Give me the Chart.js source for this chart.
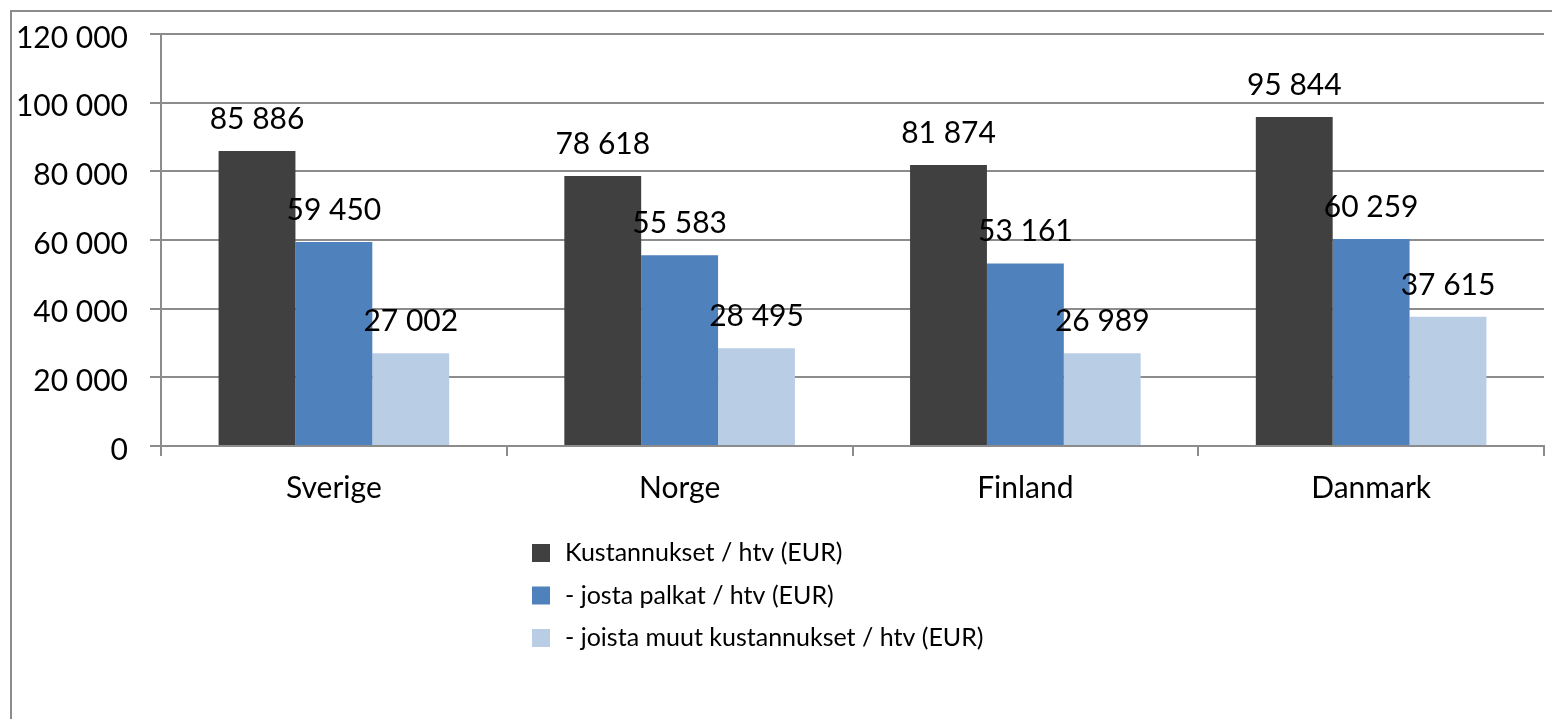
<!DOCTYPE html>
<html>
<head>
<meta charset="utf-8">
<script src="https://cdn.jsdelivr.net/npm/chart.js@4/dist/chart.umd.min.js"></script>
<style>
  html, body { margin: 0; padding: 0; background: #fff; }
  #wrap { position: absolute; left: 0; top: 0; width: 1552px; height: 719px; }
</style>
</head>
<body>
<div id="wrap"><canvas id="chart" width="1552" height="719"></canvas></div>
<script>
// categories and series
var countries = ['Sverige', 'Norge', 'Finland', 'Danmark'];
var kustannukset = [85886, 78618, 81874, 95844];
var palkat = [59450, 55583, 53161, 60259];
var muut = [27002, 28495, 26989, 37615];
var yTicks = [0, 20000, 40000, 60000, 80000, 100000, 120000];

var FONT = 'Lato, "Open Sans", sans-serif';
var FSIZE = 30;

function fmt(v) {
    return String(v).replace(/\B(?=(\d{3})+(?!\d))/g, ' ');
}

// gray frame around the whole chart
var framePlugin = {
    id: 'frame',
    beforeDraw: function (chart) {
        var c = chart.ctx;
        c.save();
        c.fillStyle = '#fff';
        c.fillRect(0, 0, chart.width, chart.height);
        c.strokeStyle = '#8c8c8c';
        c.lineWidth = 2;
        c.beginPath();
        c.moveTo(11, chart.height + 5);
        c.lineTo(11, 11);
        c.lineTo(chart.width + 5, 11);
        c.stroke();
        c.restore();
    }
};

// value labels above each bar
var valuePlugin = {
    id: 'values',
    afterDatasetsDraw: function (chart) {
        var c = chart.ctx;
        c.save();
        c.font = FSIZE + 'px ' + FONT;
        c.fillStyle = '#000';
        c.textAlign = 'center';
        c.textBaseline = 'middle';
        chart.data.datasets.forEach(function (ds, i) {
            chart.getDatasetMeta(i).data.forEach(function (bar, j) {
                c.fillText(fmt(ds.data[j]), bar.x, bar.y - 32);
            });
        });
        c.restore();
    }
};

// vertical legend below the x axis
var legendPlugin = {
    id: 'vlegend',
    afterDraw: function (chart) {
        var c = chart.ctx;
        c.save();
        c.font = '25px ' + FONT;
        c.textBaseline = 'middle';
        c.textAlign = 'left';
        chart.data.datasets.forEach(function (ds, i) {
            var y = 553 + i * 42.5;
            c.fillStyle = ds.backgroundColor;
            c.fillRect(532, y - 9, 18, 18);
            c.fillStyle = '#000';
            c.fillText(ds.label, 565, y);
        });
        c.restore();
    }
};

new Chart(document.getElementById('chart').getContext('2d'), {
    type: 'bar',
    data: {
        labels: countries,
        datasets: [
            { label: 'Kustannukset / htv (EUR)', data: kustannukset, backgroundColor: '#404040' },
            { label: '- josta palkat / htv (EUR)', data: palkat, backgroundColor: '#4f81bd' },
            { label: '- joista muut kustannukset / htv (EUR)', data: muut, backgroundColor: '#b9cde5' }
        ]
    },
    options: {
        responsive: false,
        animation: false,
        devicePixelRatio: 1,
        layout: { padding: { left: 11, top: 34, right: 8, bottom: 203 } },
        datasets: { bar: { categoryPercentage: 0.667, barPercentage: 1 } },
        plugins: { legend: { display: false }, tooltip: { enabled: false } },
        scales: {
            x: {
                grid: { display: true, drawOnChartArea: false, drawTicks: true, tickLength: 10, color: '#8c8c8c', lineWidth: 2 },
                border: { display: true, color: '#8c8c8c', width: 2 },
                ticks: { color: '#000', font: { family: FONT, size: FSIZE }, padding: 14 },
                afterFit: function (s) { s.height = 70; s.paddingLeft = 0; s.paddingRight = 0; }
            },
            y: {
                min: 0,
                max: 120000,
                afterBuildTicks: function (s) { s.ticks = yTicks.map(function (v) { return { value: v }; }); },
                grid: { color: '#8c8c8c', lineWidth: 2, drawTicks: true, tickLength: 11 },
                border: { display: true, color: '#8c8c8c', width: 2 },
                ticks: { color: '#000', font: { family: FONT, size: FSIZE }, padding: 22, labelOffset: 4,
                         callback: function (v) { return fmt(v); } },
                afterFit: function (s) { s.width = 150; s.paddingTop = 0; s.paddingBottom = 0; }
            }
        }
    },
    plugins: [framePlugin, valuePlugin, legendPlugin]
});
</script>
</body>
</html>
